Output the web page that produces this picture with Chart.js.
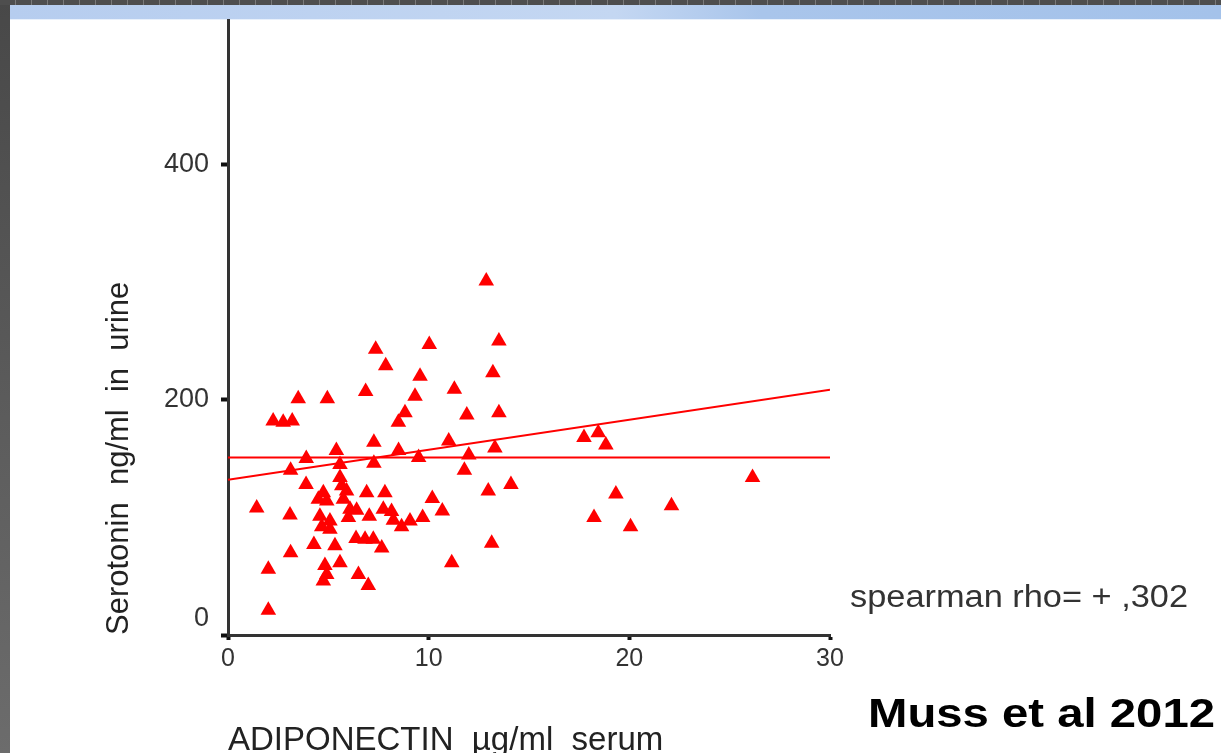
<!DOCTYPE html>
<html><head><meta charset="utf-8">
<script src="https://cdn.jsdelivr.net/npm/chart.js@4.4.1/dist/chart.umd.min.js"></script>
<style>
html,body{margin:0;padding:0;background:#fff;}
body{width:1221px;height:753px;overflow:hidden;position:relative;}
#leftStrip{position:absolute;left:0;top:0;width:10px;height:753px;background:linear-gradient(#484848,#6c6c6c);}
#topStrip{position:absolute;left:0;top:0;width:1221px;height:5px;background:#4e4e4e repeating-linear-gradient(90deg, transparent 0 15px, #7a7a7a 15px 16px);}
#blueBar{position:absolute;left:10px;top:5px;width:1211px;height:14px;background:linear-gradient(90deg,#b6cdef 0%,#c4d7f2 50%,#a9c5eb 62%,#a4c2ea 100%);border-bottom:1px solid #e8f0fb;}
#wrap{position:absolute;left:0;top:0;width:1221px;height:753px;}
</style></head><body>
<div id="leftStrip"></div><div id="topStrip"></div><div id="blueBar"></div>
<div id="wrap"><canvas id="c"></canvas></div>
<script>
// ---- data ----
const adiponectin = [12.87,7.36,10.03,13.5,7.86,9.57,13.2,6.86,11.28,3.5,4.95,9.32,8.82,8.49,11.9,13.5,2.25,2.75,3.2,7.27,11.0,13.3,5.4,8.5,12.0,9.5,3.9,
  5.58,7.27,11.78,3.12,3.89,5.58,5.67,5.91,4.75,6.91,7.82,12.97,14.1,10.18,4.5,4.92,5.75,1.43,3.09,4.58,6.08,6.41,6.0,7.04,7.74,8.15,8.24,8.65,9.07,9.7,10.68,
  5.08,4.67,5.08,4.28,5.33,6.38,6.83,7.24,7.66,3.12,13.14,11.15,5.58,4.83,4.92,4.75,6.5,6.99,2.01,2.01,
  17.74,18.45,18.83,26.14,19.33,18.24,20.06,22.1];
const serotonin = [301,243,247,250,229,220,223,207,209,201,201,203,189,181,187,189,182,181,182,164,165,159,157,157,153,151,150,
  145,146,140,140,128,134,127,122.5,121,121,121,122.5,128,116,115.5,114,115.5,108,102,101,107,106,100,101,107,105,97.5,92,97,100,105.5,
  97,92,90,77,76,82,81.5,81.5,74,70,78,61.5,61.5,59,51.5,46,51.5,42,56,21,
  168,172,161.5,134,120,100,92,110];
const lineX = [0, 30];
const meanLineY = [151, 151];
const fitLineY = [132, 208.5];
const xTicks = [0, 10, 20, 30];
const yTicks = [0, 200, 400];
const xTitle = 'ADIPONECTIN  \u00b5g/ml  serum';
const yTitle = 'Serotonin  ng/ml  in  urine';
const noteText = 'spearman rho= + ,302';
const sourceText = 'Muss et al 2012';

const FAM = '"Liberation Sans", Arial, sans-serif';
const RED = '#ff0000';

function drawStretched(ctx, text, x, baseline, font, color, targetW){
  ctx.save();
  ctx.font = font; ctx.fillStyle = color; ctx.textBaseline = 'alphabetic'; ctx.textAlign = 'left';
  const w = ctx.measureText(text).width;
  ctx.translate(x, baseline); ctx.scale(targetW / w, 1);
  ctx.fillText(text, 0, 0);
  ctx.restore();
}
const annot = {
  id: 'annot',
  afterDraw(chart){
    const ctx = chart.ctx;
    drawStretched(ctx, noteText, 850, 607, '31px ' + FAM, '#333', 338);
    drawStretched(ctx, sourceText, 868, 727, 'bold 40px ' + FAM, '#000', 347);
  }
};

const points = adiponectin.map((x, i) => ({x, y: serotonin[i]}));
new Chart(document.getElementById('c'), {
  type: 'scatter',
  data: {
    datasets: [
      {data: points, pointStyle: 'triangle', pointRadius: 9, pointHoverRadius: 9, backgroundColor: RED, borderColor: RED, borderWidth: 0, order: 1},
      {data: lineX.map((x, i) => ({x, y: meanLineY[i]})), showLine: true, borderColor: RED, borderWidth: 2, pointRadius: 0, order: 2},
      {data: lineX.map((x, i) => ({x, y: fitLineY[i]})), showLine: true, borderColor: RED, borderWidth: 2, pointRadius: 0, order: 3}
    ]
  },
  options: {
    responsive: true, maintainAspectRatio: false, animation: false,
    layout: {autoPadding: false, padding: {left: 0, top: 20, right: 391, bottom: 0}},
    plugins: {legend: {display: false}, tooltip: {enabled: false}},
    scales: {
      x: {
        type: 'linear', min: 0, max: 30,
        afterBuildTicks: s => { s.ticks = xTicks.map(v => ({value: v})); },
        afterFit: s => { s.height = 118; s.paddingLeft = 0; s.paddingRight = 0; },
        grid: {display: true, drawOnChartArea: false, drawTicks: true, tickLength: 5, tickWidth: 4, tickColor: '#111', color: '#111'},
        border: {display: true, color: '#333', width: 3},
        ticks: {font: {family: FAM, size: 25, lineHeight: 1.2}, color: '#333', padding: 4, maxRotation: 0, autoSkip: false},
        title: {display: true, text: xTitle, align: 'start', color: '#222', font: {family: FAM, size: 33, lineHeight: 1}, padding: {top: 0, bottom: -4}}
      },
      y: {
        type: 'linear', min: 0, max: 523,
        afterBuildTicks: s => { s.ticks = yTicks.map(v => ({value: v})); },
        afterFit: s => { s.width = 228; s.paddingTop = 0; s.paddingBottom = 0; },
        grid: {display: true, drawOnChartArea: false, drawTicks: true, tickLength: 7, tickWidth: 4, tickColor: '#111', color: '#111'},
        border: {display: true, color: '#333', width: 3},
        ticks: {font: {family: FAM, size: 27, lineHeight: 1.2}, color: '#333', padding: 12,
          callback: v => v === 0 ? ['0', ''] : String(v)},
        title: {display: true, text: yTitle, align: 'start', color: '#222', font: {family: FAM, size: 31, lineHeight: 1}, padding: {top: 104, bottom: 0}}
      }
    }
  },
  plugins: [annot]
});
</script>
</body></html>
